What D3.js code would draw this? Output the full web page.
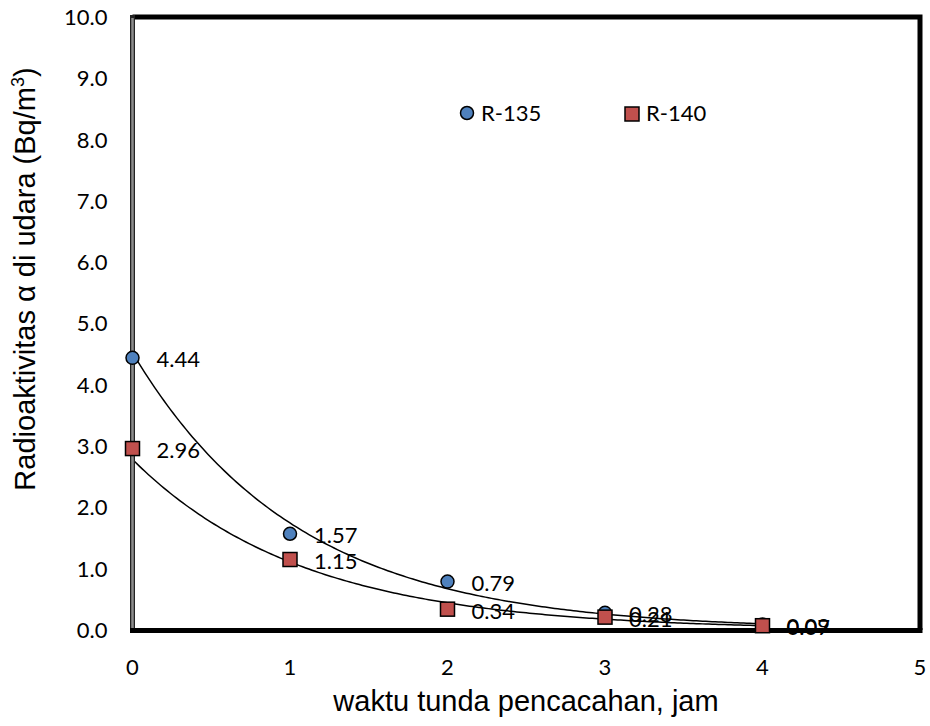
<!DOCTYPE html>
<html>
<head>
<meta charset="utf-8">
<script src="https://cdn.jsdelivr.net/npm/d3@7"></script>
<style>
  body { margin: 0; background: #fff; }
</style>
</head>
<body>
<div id="chart"></div>
<script>
const width = 930;
const height = 726;
const margin = { top: 17, right: 10, bottom: 96, left: 132.5 };

// data
const hours = [0, 1, 2, 3, 4];
const seriesNames = ["R-135", "R-140"];
const r135 = [4.44, 1.57, 0.79, 0.28, 0.09];
const r140 = [2.96, 1.15, 0.34, 0.21, 0.07];
const yTicks = [0, 1, 2, 3, 4, 5, 6, 7, 8, 9, 10];
const xTicks = [0, 1, 2, 3, 4, 5];

const tickFont = "Lato, 'Open Sans', sans-serif";
const titleFont = "'Liberation Sans', Arial, sans-serif";

const svg = d3.select("#chart")
  .append("svg")
  .attr("width", width)
  .attr("height", height);

const x = d3.scaleLinear().domain([0, 5]).range([margin.left, width - margin.right]);
const y = d3.scaleLinear().domain([0, 10]).range([height - margin.bottom, margin.top]);

// exponential trendline (least squares on ln y), like a spreadsheet fit
function expFit(xs, ys) {
  const ly = ys.map(Math.log);
  const mx = d3.mean(xs), my = d3.mean(ly);
  const b = d3.sum(xs, (v, i) => (v - mx) * (ly[i] - my)) / d3.sum(xs, v => (v - mx) * (v - mx));
  const a = Math.exp(my - b * mx);
  return t => a * Math.exp(b * t);
}

// plot frame: top and right borders
svg.append("path")
  .attr("d", `M${x(0)},${y(10)}H${x(5)}V${y(0)}`)
  .attr("fill", "none")
  .attr("stroke", "#000")
  .attr("stroke-width", 5);

// trendlines
const line = d3.line().x(d => x(d[0])).y(d => y(d[1]));
[r135, r140].forEach(vals => {
  const f = expFit(hours, vals);
  const pts = d3.range(0, 4.0001, 0.02).map(t => [t, f(t)]);
  svg.append("path")
    .datum(pts)
    .attr("d", line)
    .attr("fill", "none")
    .attr("stroke", "#000")
    .attr("stroke-width", 1.5);
});

// y axis (grey bar with dark edges)
svg.append("line")
  .attr("x1", x(0)).attr("x2", x(0))
  .attr("y1", y(10) - 2).attr("y2", y(0))
  .attr("stroke", "#222").attr("stroke-width", 5);
svg.append("line")
  .attr("x1", x(0)).attr("x2", x(0))
  .attr("y1", y(10) + 1).attr("y2", y(0))
  .attr("stroke", "#8c8c8c").attr("stroke-width", 2.5);

// x axis
svg.append("line")
  .attr("x1", x(0) - 2.5).attr("x2", x(5) + 2.5)
  .attr("y1", y(0) + 0.5).attr("y2", y(0) + 0.5)
  .attr("stroke", "#000").attr("stroke-width", 5);

// tick labels
svg.append("g")
  .selectAll("text")
  .data(yTicks)
  .join("text")
  .attr("x", x(0) - 25)
  .attr("y", d => y(d))
  .attr("dy", "0.36em")
  .attr("text-anchor", "end")
  .attr("font-family", tickFont)
  .attr("font-size", "22px")
  .attr("fill", "#000")
  .text(d => d.toFixed(1));

svg.append("g")
  .selectAll("text")
  .data(xTicks)
  .join("text")
  .attr("x", d => x(d))
  .attr("y", y(0) + 37)
  .attr("dy", "0.36em")
  .attr("text-anchor", "middle")
  .attr("font-family", tickFont)
  .attr("font-size", "22px")
  .attr("fill", "#000")
  .text(d => d);

// markers
const circles = hours.map((h, i) => ({ h, v: r135[i] }));
const squares = hours.map((h, i) => ({ h, v: r140[i] }));

svg.append("g")
  .selectAll("circle")
  .data(circles)
  .join("circle")
  .attr("cx", d => x(d.h))
  .attr("cy", d => y(d.v))
  .attr("r", 6.5)
  .attr("fill", "#4f81bd")
  .attr("stroke", "#000")
  .attr("stroke-width", 1.5);

svg.append("g")
  .selectAll("rect")
  .data(squares)
  .join("rect")
  .attr("x", d => x(d.h) - 7)
  .attr("y", d => y(d.v) - 7)
  .attr("width", 14)
  .attr("height", 14)
  .attr("fill", "#c0504d")
  .attr("stroke", "#000")
  .attr("stroke-width", 1.5);

// data labels
[circles, squares].forEach(set => {
  svg.append("g")
    .selectAll("text")
    .data(set)
    .join("text")
    .attr("x", d => x(d.h) + 24)
    .attr("y", d => y(d.v) + 1.5)
    .attr("dy", "0.36em")
    .attr("font-family", tickFont)
    .attr("font-size", "22px")
    .attr("fill", "#000")
    .text(d => d.v.toFixed(2));
});

// legend
const legend = svg.append("g").attr("font-family", tickFont).attr("font-size", "22px");
legend.append("circle")
  .attr("cx", 467).attr("cy", 113).attr("r", 6.5)
  .attr("fill", "#4f81bd").attr("stroke", "#000").attr("stroke-width", 1.5);
legend.append("text").attr("x", 481).attr("y", 113.5).attr("dy", "0.36em").text(seriesNames[0]);
legend.append("rect")
  .attr("x", 625).attr("y", 107).attr("width", 14).attr("height", 14)
  .attr("fill", "#c0504d").attr("stroke", "#000").attr("stroke-width", 1.5);
legend.append("text").attr("x", 646).attr("y", 113.5).attr("dy", "0.36em").text(seriesNames[1]);

// axis titles
svg.append("text")
  .attr("x", 526)
  .attr("y", 711)
  .attr("text-anchor", "middle")
  .attr("font-family", titleFont)
  .attr("font-size", "29px")
  .attr("fill", "#000")
  .text("waktu tunda pencacahan, jam");

const yTitle = svg.append("text")
  .attr("transform", "translate(35,279) rotate(-90)")
  .attr("text-anchor", "middle")
  .attr("font-family", titleFont)
  .attr("font-size", "29px")
  .attr("fill", "#000");
yTitle.append("tspan").text("Radioaktivitas α di udara (Bq/m");
yTitle.append("tspan").attr("font-size", "18px").attr("dy", "-11").text("3");
yTitle.append("tspan").attr("dy", "11").text(")");
</script>
</body>
</html>
